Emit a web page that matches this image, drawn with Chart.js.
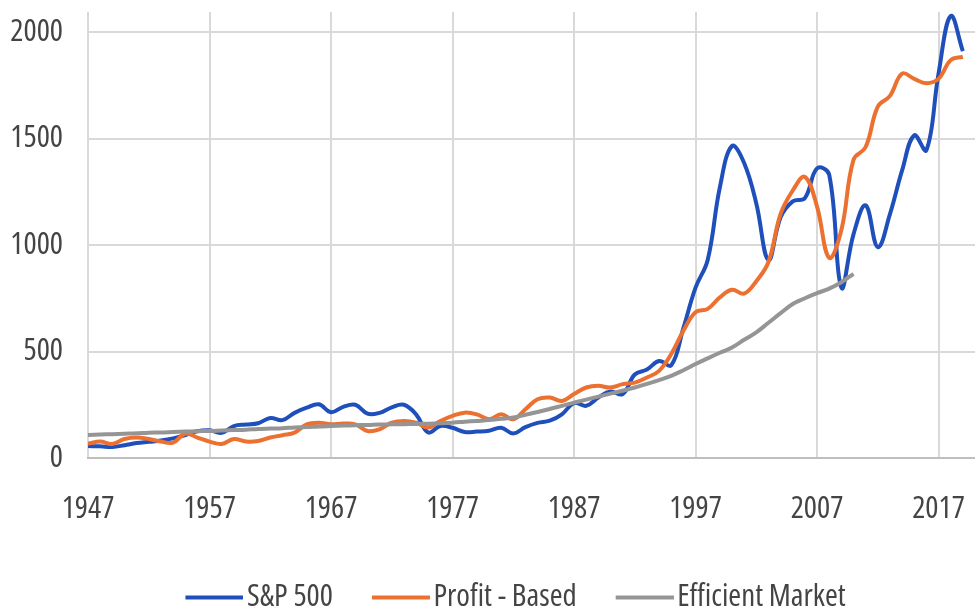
<!DOCTYPE html>
<html>
<head>
<meta charset="utf-8">
<script src="https://cdn.jsdelivr.net/npm/chart.js@4.4.0/dist/chart.umd.min.js"></script>
<style>
  html, body { margin: 0; padding: 0; background: #fff; }
  #wrap { width: 975px; height: 614px; }
</style>
</head>
<body>
<div id="wrap"><canvas id="profitChart"></canvas></div>
<script>
const years = [];
for (let y = 1947; y <= 2019; y++) years.push(y);

const xTicks = [1947, 1957, 1967, 1977, 1987, 1997, 2007, 2017];
const yTicks = [0, 500, 1000, 1500, 2000];

const sp500 = [
  56, 55, 52, 60, 70, 76, 82, 92, 108, 126,
  130, 118, 150, 157, 163, 188, 178, 212, 236, 252,
  215, 240, 250, 208, 212, 238, 250, 205, 120, 150,
  142, 122, 124, 128, 142, 115, 145, 165, 175, 205,
  258, 245, 284, 312, 300, 392, 415, 455, 435, 610,
  800, 930, 1270, 1465, 1385, 1195, 930, 1130, 1205, 1220,
  1360, 1330, 800, 1050, 1186, 990, 1145, 1350, 1515, 1445,
  1805, 2075, 1910
];

const profitBased = [
  67, 77, 66, 89, 96, 89, 77, 72, 114, 96,
  77, 66, 89, 77, 80, 96, 107, 119, 158, 166,
  158, 162, 158, 127, 135, 166, 174, 166, 143, 174,
  198, 213, 205, 182, 205, 182, 229, 276, 284, 268,
  300, 331, 339, 331, 347, 354, 378, 409, 488, 597,
  684, 700, 754, 790, 772, 830, 920, 1146, 1256, 1320,
  1180, 940, 1070, 1400, 1460, 1650, 1700, 1805, 1780, 1760,
  1780, 1868, 1884
];

const efficientMarket = [
  108, 110, 112, 114, 116, 119, 120, 122, 124, 126,
  127, 129, 131, 133, 136, 138, 140, 143, 145, 148,
  150, 152, 154, 155, 157, 158, 159, 160, 161, 163,
  166, 170, 174, 178, 184, 190, 203, 216, 230, 245,
  260, 274, 288, 302, 316, 331, 348, 366, 386, 412,
  441, 468, 494, 519, 555, 590, 635, 680, 723, 750,
  774, 795, 825, 865
];

const toPoints = arr => arr.map((v, i) => ({ x: years[i], y: v }));

// legend swatch: a 58px line that sits right up against the label text
function legendLine(color) {
  const c = document.createElement('canvas');
  c.width = 70;
  c.height = 8;
  const g = c.getContext('2d');
  g.fillStyle = color;
  g.fillRect(12, 2, 58, 4);
  return c;
}

// nudge the legend row a little left, like the original
const legendShift = {
  id: 'legendShift',
  afterLayout(chart) {
    if (chart.legend) {
      chart.legend.left -= 16;
      chart.legend.right -= 16;
    }
  }
};

const font = { family: "'Open Sans', sans-serif", weight: 'condensed', size: 31 };
const textColor = '#444444';
const gridColor = '#d9d9d9';

const ctx = document.getElementById('profitChart');

new Chart(ctx, {
  type: 'line',
  data: {
    datasets: [
      {
        label: 'S&P 500',
        data: toPoints(sp500),
        borderColor: '#1f4fbb',
        backgroundColor: '#1f4fbb',
        pointStyle: legendLine('#1f4fbb'),
        borderWidth: 4,
        order: 3
      },
      {
        label: 'Profit - Based',
        data: toPoints(profitBased),
        borderColor: '#ec7030',
        backgroundColor: '#ec7030',
        pointStyle: legendLine('#ec7030'),
        borderWidth: 4,
        order: 2
      },
      {
        label: 'Efficient Market',
        data: toPoints(efficientMarket),
        borderColor: '#959595',
        backgroundColor: '#959595',
        pointStyle: legendLine('#959595'),
        borderWidth: 4,
        order: 1
      }
    ]
  },
  options: {
    responsive: true,
    maintainAspectRatio: false,
    animation: false,
    layout: { padding: { left: 0, right: 0, top: 12, bottom: -9 } },
    elements: {
      point: { radius: 0, hoverRadius: 0 },
      line: { tension: 0.4 }
    },
    scales: {
      x: {
        type: 'linear',
        min: 1947,
        max: 2020,
        afterBuildTicks: scale => { scale.ticks = xTicks.map(v => ({ value: v })); },
        afterFit: scale => { scale.height = 85; scale.paddingLeft = 0; scale.paddingRight = 0; },
        grid: { color: gridColor, lineWidth: 2, drawTicks: false },
        border: { display: true, color: '#bfbfbf', width: 2 },
        ticks: { font, color: textColor, padding: 33, maxRotation: 0, autoSkip: false,
          callback: v => String(v) }
      },
      y: {
        min: 0,
        max: 2094,
        afterBuildTicks: scale => { scale.ticks = yTicks.map(v => ({ value: v })); },
        afterFit: scale => { scale.width = 88; scale.paddingTop = 0; scale.paddingBottom = 0; },
        grid: { color: gridColor, lineWidth: 2, drawTicks: false },
        border: { display: false },
        ticks: { font, color: textColor, padding: 25, callback: v => String(v) }
      }
    },
    plugins: {
      tooltip: { enabled: false },
      legend: {
        position: 'bottom',
        fullSize: false,
        labels: {
          font,
          color: textColor,
          usePointStyle: true,
          pointStyleWidth: 46,
          padding: 39,
          sort: (a, b) => a.datasetIndex - b.datasetIndex
        }
      }
    }
  },
  plugins: [legendShift]
});
</script>
</body>
</html>
